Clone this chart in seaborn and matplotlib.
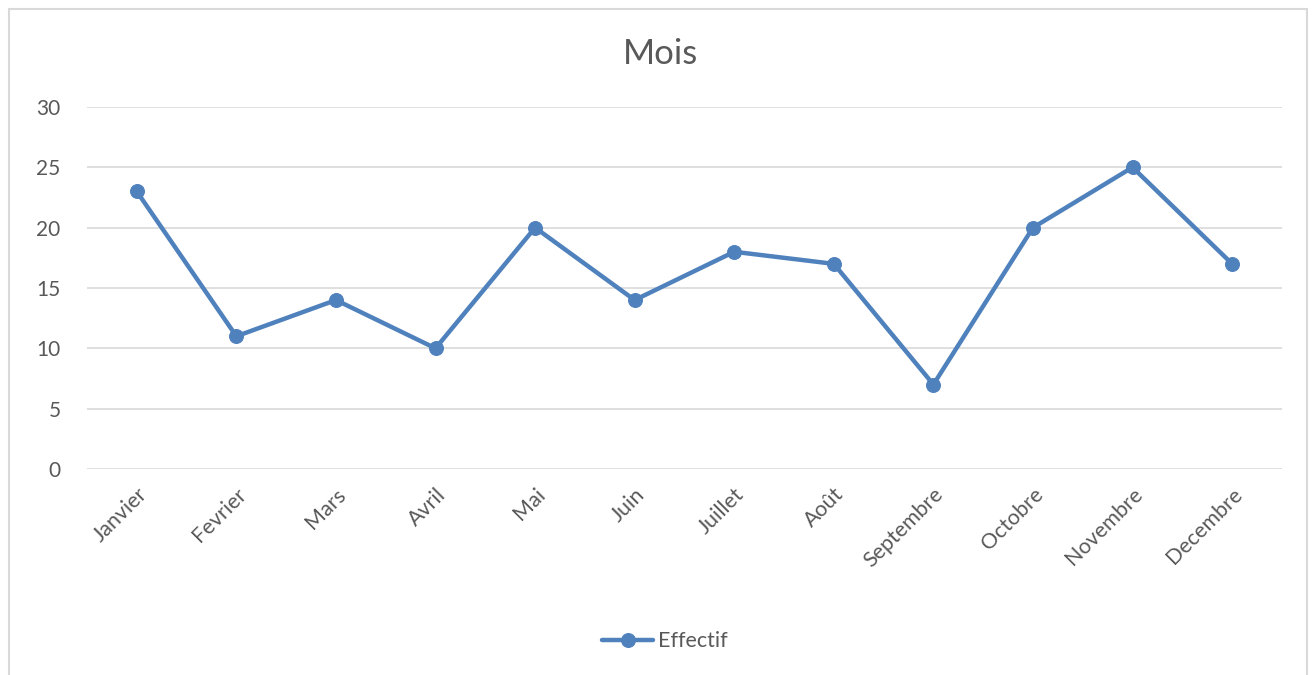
import matplotlib
matplotlib.use("Agg")
import matplotlib.pyplot as plt
import matplotlib.patches as mpatches
import pandas as pd
import seaborn as sns

MONTHS = ["Janvier", "Fevrier", "Mars", "Avril", "Mai", "Juin", "Juillet",
          "Août", "Septembre", "Octobre", "Novembre", "Decembre"]
EFFECTIF = [23, 11, 14, 10, 20, 14, 18, 17, 7, 20, 25, 17]
Y_TICKS = [0, 5, 10, 15, 20, 25, 30]

LINE_COLOR = "#4f81bd"
TEXT_COLOR = "#595959"
GRID_COLOR = "#d9d9d9"


def main() -> None:
    sns.set_style("white")
    plt.rcParams["font.family"] = ["Lato", "DejaVu Sans"]

    df = pd.DataFrame({"mois": MONTHS, "effectif": EFFECTIF})

    fig = plt.figure(figsize=(13.16, 6.75), dpi=100)
    ax = fig.add_axes([0.0661, 0.3052, 0.908, 0.5363])

    sns.lineplot(data=df, x="mois", y="effectif", ax=ax, color=LINE_COLOR,
                 linewidth=3.2, marker="o", markersize=10,
                 markeredgecolor=LINE_COLOR, label="Effectif", sort=False)

    ax.set_xlim(-0.5, len(MONTHS) - 0.5)
    ax.set_ylim(0, 30)
    ax.set_yticks(Y_TICKS)
    ax.set_xticks(range(len(MONTHS)))
    ax.set_xticklabels(MONTHS, rotation=45, ha="right", rotation_mode="anchor")
    ax.tick_params(axis="both", length=0, labelsize=15, colors=TEXT_COLOR)
    ax.tick_params(axis="x", pad=11, labelsize=15.5)
    ax.tick_params(axis="y", pad=19)
    ax.set_xlabel("")
    ax.set_ylabel("")
    ax.grid(axis="y", color=GRID_COLOR, linewidth=1.2)
    ax.set_axisbelow(True)
    for spine in ax.spines.values():
        spine.set_visible(False)

    fig.text(0.502, 0.92, "Mois", ha="center", va="center",
             fontsize=25, color=TEXT_COLOR)

    ax.legend(loc="center", bbox_to_anchor=(0.505, 0.05),
              bbox_transform=fig.transFigure, frameon=False,
              fontsize=15.5, labelcolor=TEXT_COLOR, handlelength=2.4,
              handletextpad=0.2)

    frame = mpatches.Rectangle((9 / 1316, -0.05), 1298 / 1316, 1.05 - 9 / 675,
                               transform=fig.transFigure, fill=False,
                               edgecolor=GRID_COLOR, linewidth=1.5)
    fig.patches.append(frame)

    fig.savefig("out.png", dpi=100)
    plt.close(fig)


if __name__ == "__main__":
    main()
